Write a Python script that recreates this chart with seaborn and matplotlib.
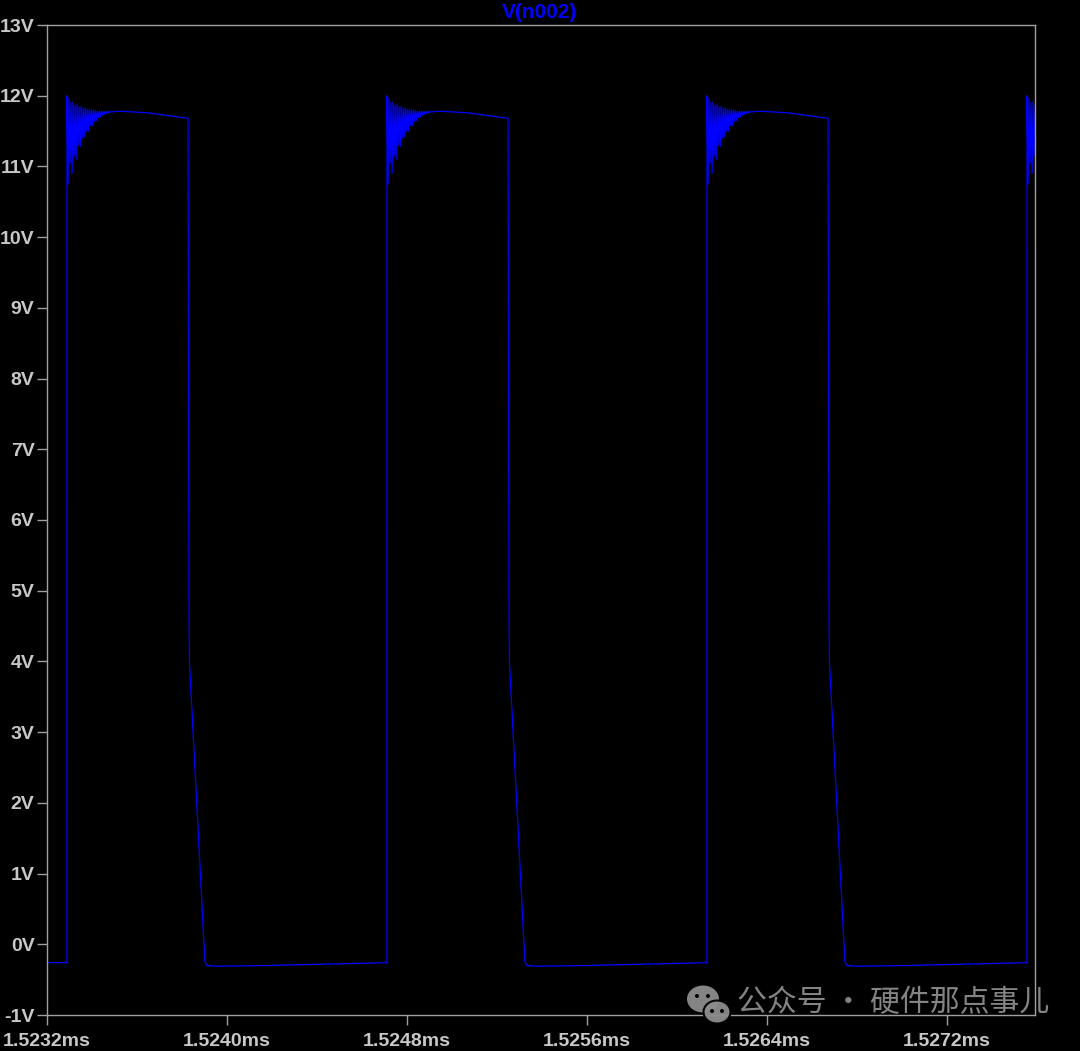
import numpy as np
import pandas as pd
import matplotlib
matplotlib.use("Agg")
import matplotlib.pyplot as plt
import seaborn as sns
from matplotlib.patches import Ellipse

# ---------------- data ----------------
t_origin_ms = 1.5232                      # left edge of the x axis
rise_ns = [88.9, 1511.1, 2933.3, 4355.6]  # rising edges, ns after origin
low_level = -0.26                         # level before first rising edge

# ringing after each rising edge (ns after edge, volts)
ring_hi_t = [0, 9, 18, 27, 36, 45, 54, 63, 72, 81, 90, 99, 108, 117, 126, 135, 144, 153, 162, 171, 180, 189]
ring_hi_v = [12.00, 11.97, 11.90, 11.92, 11.86, 11.88, 11.84, 11.85, 11.82, 11.83, 11.81,
             11.81, 11.80, 11.80, 11.79, 11.79, 11.78, 11.78, 11.78, 11.78, 11.78, 11.78]
ring_lo_t = [4.5, 13.5, 22.5, 31.5, 40.5, 49.5, 58.5, 67.5, 76.5, 85.5, 94.5, 103.5, 112.5,
             121.5, 130.5, 139.5, 148.5, 157.5, 166.5, 175.5, 184.5, 193.5]
ring_lo_v = [10.75, 11.05, 10.90, 11.15, 11.10, 11.30, 11.28, 11.40, 11.42, 11.50, 11.50,
             11.58, 11.58, 11.64, 11.65, 11.69, 11.70, 11.73, 11.74, 11.75, 11.76, 11.77]

# plateau, falling edge and low phase (ns after edge, volts)
shape_t = [235, 355, 538, 539.5, 541, 542, 544, 613, 622, 667, 889, 1413]
shape_v = [11.78, 11.76, 11.68, 7.9, 7.6, 5.0, 4.0, -0.25, -0.30, -0.31, -0.30, -0.26]

x_ticks_ms = [1.5232, 1.5240, 1.5248, 1.5256, 1.5264, 1.5272]
y_ticks_v = list(range(-1, 14))
x_max_ms = 1.527591

# ---------------- build the trace ----------------
tmpl_t = [-0.3]
tmpl_v = [low_level]
for th, vh, tl, vl in zip(ring_hi_t, ring_hi_v, ring_lo_t, ring_lo_v):
    tmpl_t += [th, tl]
    tmpl_v += [vh, vl]
tmpl_t += shape_t
tmpl_v += shape_v

ts = [0.0]
vs = [low_level]
for r in rise_ns:
    ts += [r + t for t in tmpl_t]
    vs += list(tmpl_v)
df = pd.DataFrame({"t": [t_origin_ms + t * 1e-6 for t in ts], "v": vs})

# ---------------- figure ----------------
W, H = 1080, 1051
fig = plt.figure(figsize=(W / 100, H / 100), dpi=100, facecolor="black")
ax = fig.add_axes([47 / W, 1 - 1015 / H, (1035 - 47) / W, (1015 - 25) / H])
ax.set_facecolor("black")

sns.lineplot(data=df, x="t", y="v", ax=ax, sort=False, estimator=None,
             color="#0000ff", linewidth=0.9)

ax.set_xlim(t_origin_ms, x_max_ms)
ax.set_ylim(-1, 13)
ax.set_xlabel("")
ax.set_ylabel("")
ax.grid(False)

axis_col = "#a0a0a0"
label_col = "#c8c8c8"
for s in ax.spines.values():
    s.set_color(axis_col)
    s.set_linewidth(1.0)

ax.set_xticks(x_ticks_ms)
ax.set_xticklabels([f"{v:.4f}ms" for v in x_ticks_ms])
ax.set_yticks(y_ticks_v)
ax.set_yticklabels([f"{v}V" for v in y_ticks_v])
ax.tick_params(axis="both", direction="out", length=7, width=1, color=axis_col,
               labelcolor=label_col, labelsize=14)
ax.tick_params(axis="x", pad=6)
ax.tick_params(axis="y", pad=2)
for lab in ax.get_xticklabels() + ax.get_yticklabels():
    lab.set_fontfamily("Liberation Sans")
    lab.set_fontweight("bold")

fig.text(540 / W, 1 - 12 / H, "V(n002)", color="#0000ff", fontsize=15,
         fontweight="bold", family="Liberation Sans", ha="center", va="center")

# watermark
wm = "#8c8c8c"
fig.add_artist(Ellipse((703 / W, 1 - 999 / H), 32 / W, 27 / H, transform=fig.transFigure,
                       facecolor=wm, edgecolor="none", alpha=0.95))
fig.add_artist(Ellipse((717 / W, 1 - 1012 / H), 27 / W, 23 / H, transform=fig.transFigure,
                       facecolor=wm, edgecolor="black", linewidth=1.5, alpha=0.95))
for ex, ey in [(697, 996), (708, 996), (712, 1011), (722, 1011)]:
    fig.add_artist(Ellipse((ex / W, 1 - ey / H), 4 / W, 4 / H, transform=fig.transFigure,
                           facecolor="black", edgecolor="none"))
fig.text(737 / W, 1 - 1003 / H, "公众号 · 硬件那点事儿", color=wm, fontsize=21.5,
         family=["Noto Sans CJK SC", "DejaVu Sans"], ha="left", va="center", alpha=0.95)

fig.savefig("out.png", dpi=100, facecolor="black")
